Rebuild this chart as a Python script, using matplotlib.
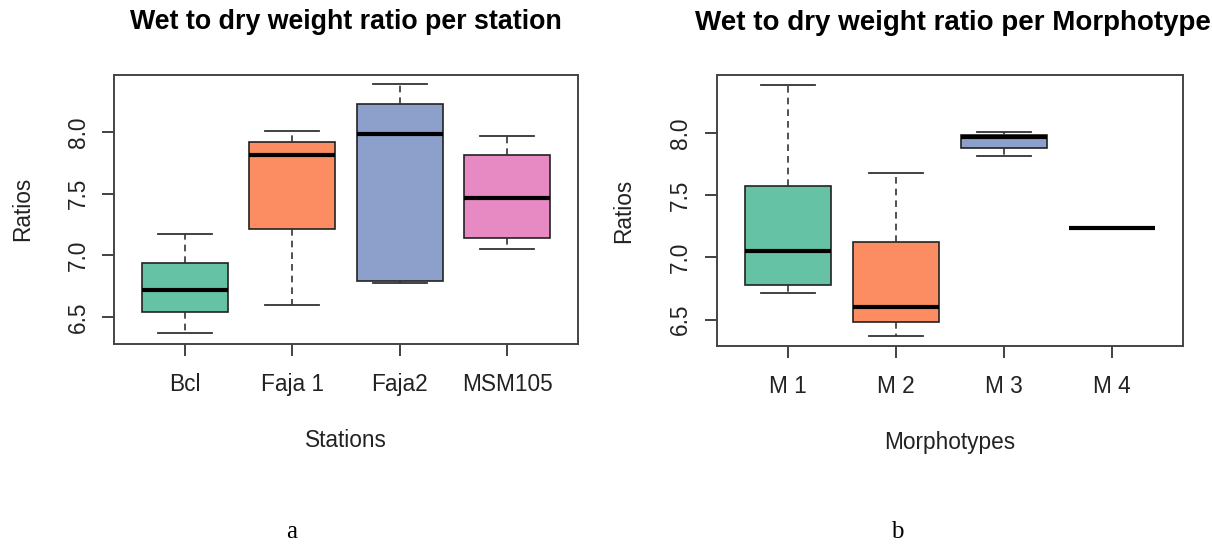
import matplotlib
matplotlib.use("Agg")
import matplotlib.pyplot as plt

plt.rcParams['font.family'] = ['Liberation Sans', 'DejaVu Sans']

# Panel a: stations
stations = ["Bcl", "Faja 1", "Faja2", "MSM105"]
st_whislo = [6.374, 6.598, 6.774, 7.054]
st_q1 = [6.544, 7.211, 6.795, 7.143]
st_med = [6.717, 7.814, 7.986, 7.465]
st_q3 = [6.941, 7.916, 8.224, 7.814]
st_whishi = [7.171, 8.011, 8.386, 7.965]

# Panel b: morphotypes
morphs = ["M 1", "M 2", "M 3", "M 4"]
mo_whislo = [6.715, 6.372, 7.812, 7.234]
mo_q1 = [6.780, 6.484, 7.879, 7.234]
mo_med = [7.054, 6.600, 7.965, 7.234]
mo_q3 = [7.571, 7.127, 7.984, 7.234]
mo_whishi = [8.383, 7.676, 8.008, 7.234]

colors = ["#66C2A5", "#FC8D62", "#8DA0CB", "#E78AC3"]
yticks = [6.5, 7.0, 7.5, 8.0]

fig = plt.figure(figsize=(12.12, 5.47), dpi=100)
axA = fig.add_axes([114/1212, 1-344/547, (578-114)/1212, (344-74.7)/547])
axB = fig.add_axes([716.7/1212, 1-346/547, (1183-716.7)/1212, (346-75.3)/547])

def draw(ax, labels, lo, q1, med, q3, hi, xlabel, ylim, xl_y, yl_x):
    stats = []
    for i, lab in enumerate(labels):
        stats.append(dict(label=lab, whislo=lo[i], q1=q1[i], med=med[i],
                          q3=q3[i], whishi=hi[i], fliers=[]))
    pos = list(range(1, len(labels)+1))
    b = ax.bxp(stats, positions=pos, widths=0.8, capwidths=0.5,
               patch_artist=True, showfliers=False,
               boxprops=dict(edgecolor="#222222", linewidth=1.2),
               medianprops=dict(color="black", linewidth=3.0, solid_capstyle="butt"),
               whiskerprops=dict(color="#333333", linewidth=1.2, linestyle=(0, (4, 3))),
               capprops=dict(color="#333333", linewidth=1.3))
    for patch, c in zip(b["boxes"], colors):
        patch.set_facecolor(c)
    ax.set_xlim(0.34, 4.66)
    ax.set_ylim(*ylim)
    ax.set_yticks(yticks)
    ax.set_yticklabels([f"{v:.1f}" for v in yticks], rotation=90, va="center")
    ax.set_xticks(pos)
    ax.set_xticklabels(labels)
    ax.tick_params(axis="both", direction="out", length=8.6, width=1.3,
                   color="#333333", labelsize=16.3, labelcolor="#222222")
    ax.tick_params(axis="x", pad=12)
    ax.tick_params(axis="y", pad=9)
    for s in ax.spines.values():
        s.set_color("#444444")
        s.set_linewidth(1.4)
    ax.set_xlabel(xlabel, fontsize=16.3, color="#222222", va="center")
    ax.set_ylabel("Ratios", fontsize=16.3, color="#222222", va="center")
    ax.xaxis.set_label_coords(0.5, xl_y)
    ax.yaxis.set_label_coords(yl_x, 0.5)

draw(axA, stations, st_whislo, st_q1, st_med, st_q3, st_whishi,
     "Stations", (6.282, 8.464), -0.3565, -0.198)
draw(axB, morphs, mo_whislo, mo_q1, mo_med, mo_q3, mo_whishi,
     "Morphotypes", (6.288, 8.464), -0.358, -0.2003)

axA.set_title("Wet to dry weight ratio per station", fontsize=19.3,
              fontweight="bold", pad=33)
fig.text(695/1212, 1-30/547, "Wet to dry weight ratio per Morphotypes",
         fontsize=20, fontweight="bold", ha="left", va="baseline")

fig.text(292/1212, 1-532/547, "a", fontsize=18, family="Liberation Serif",
         ha="center", va="center")
fig.text(897/1212, 1-532/547, "b", fontsize=18, family="Liberation Serif",
         ha="center", va="center")

fig.savefig("out.png", dpi=100)
